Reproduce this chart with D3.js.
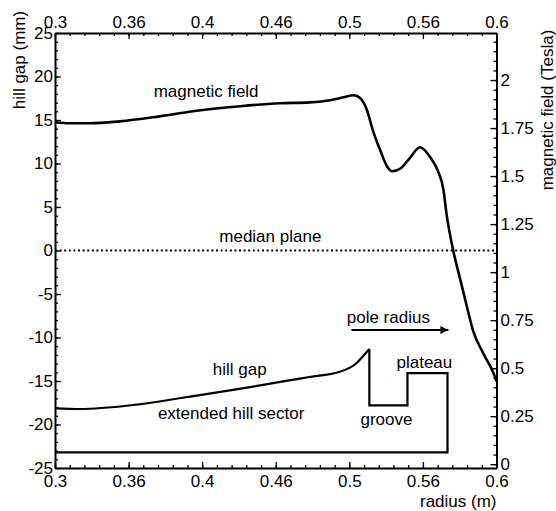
<!DOCTYPE html>
<html>
<head>
<meta charset="utf-8">
<script src="https://cdn.jsdelivr.net/npm/d3@7"></script>
<style>
  body { margin: 0; background: #fff; }
  svg text { font-family: "Liberation Sans", Arial, sans-serif; font-size: 17px; fill: #000; }
  .axis path, .axis line { stroke: #000; }
  .axis path { stroke-width: 2px; }
  .axis line { stroke-width: 1.3px; }
</style>
</head>
<body>
<div id="chart"></div>
<script>
//////////////////////////////////////////////
// data //////////////////////////////////////
//////////////////////////////////////////////

// magnetic field along the radius (Tesla, right axis)
var fieldR = [0.300, 0.310, 0.324, 0.344, 0.371, 0.399, 0.426, 0.453, 0.473, 0.487, 0.496,
              0.503, 0.5075, 0.512, 0.516, 0.521, 0.526, 0.529, 0.535, 0.5415, 0.548,
              0.555, 0.560, 0.564, 0.566, 0.571, 0.575, 0.580, 0.584, 0.591, 0.598, 0.600];
var fieldB = [1.780, 1.775, 1.775, 1.785, 1.811, 1.843, 1.864, 1.879, 1.884, 1.895, 1.910,
              1.921, 1.905, 1.843, 1.738, 1.634, 1.546, 1.525, 1.541, 1.598, 1.650,
              1.598, 1.530, 1.426, 1.306, 1.098, 0.973, 0.817, 0.697, 0.577, 0.473, 0.431];

// hill gap profile (mm, left axis), sloped part
var hillR   = [0.300, 0.317, 0.353, 0.390, 0.421, 0.453, 0.473, 0.493, 0.505, 0.510, 0.5136];
var hillGap = [-18.14, -18.22, -17.76, -16.84, -16.03, -15.11, -14.54, -13.97, -12.93, -12.01, -11.32];

// groove, plateau and extended hill sector outline
var outlineR   = [0.5136, 0.5136, 0.5395, 0.5395, 0.5667, 0.5667, 0.300];
var outlineGap = [-11.32, -17.80, -17.80, -14.10, -14.10, -23.20, -23.20];

// ticks
var radiusTicks  = [0.30, 0.35, 0.40, 0.45, 0.50, 0.55, 0.60];
var radiusLabels = ["0.3", "0.36", "0.4", "0.46", "0.5", "0.56", "0.6"];
var gapTicks   = [25, 20, 15, 10, 5, 0, -5, -10, -15, -20, -25];
var fieldTicks  = [0, 0.25, 0.5, 0.75, 1, 1.25, 1.5, 1.75, 2];
var fieldLabels = ["0", "0.25", "0.5", "0.75", "1", "1.25", "1.5", "1.75", "2"];

//////////////////////////////////////////////
// Chart Config /////////////////////////////
//////////////////////////////////////////////
var margin = {top: 33, right: 59.5, bottom: 43, left: 55};
var width = 556 - margin.left - margin.right,
    height = 511 - margin.top - margin.bottom;

var xScale = d3.scaleLinear().domain([0.3, 0.6]).range([0, width]);
var yGap = d3.scaleLinear().domain([-25, 25]).range([height, 0]);
var yField = d3.scaleLinear().domain([-0.02, 2.245]).range([height, 0]);

var svg = d3.select("#chart").append("svg")
    .attr("width", 556)
    .attr("height", 511);

var g = svg.append("g")
    .attr("transform", "translate(" + margin.left + "," + margin.top + ")");

// minor ticks first, majors and frame on top
function minor(axis, sel) {
  sel.call(axis.tickSize(-3).tickFormat(""));
  sel.select(".domain").remove();
}
var minorR = d3.range(0.30, 0.6001, 0.01);
var minorGap = d3.range(-25, 25.001, 1);
var minorField = d3.range(0, 2.2001, 0.05);

minor(d3.axisTop(xScale).tickValues(minorR), g.append("g").attr("class", "axis"));
minor(d3.axisBottom(xScale).tickValues(minorR), g.append("g").attr("class", "axis").attr("transform", "translate(0," + height + ")"));
minor(d3.axisLeft(yGap).tickValues(minorGap), g.append("g").attr("class", "axis"));
minor(d3.axisRight(yField).tickValues(minorField), g.append("g").attr("class", "axis").attr("transform", "translate(" + width + ",0)"));

// major axes
var fmtR = function(d, i) { return radiusLabels[i]; };
g.append("g").attr("class", "axis")
    .call(d3.axisTop(xScale).tickValues(radiusTicks).tickFormat(fmtR).tickSizeInner(-6).tickSizeOuter(0).tickPadding(5));
g.append("g").attr("class", "axis")
    .attr("transform", "translate(0," + height + ")")
    .call(d3.axisBottom(xScale).tickValues(radiusTicks).tickFormat(fmtR).tickSizeInner(-6).tickSizeOuter(0).tickPadding(7));
g.append("g").attr("class", "axis")
    .call(d3.axisLeft(yGap).tickValues(gapTicks).tickFormat(function(d) { return String(d); })
      .tickSizeInner(-6).tickSizeOuter(0).tickPadding(2));
g.append("g").attr("class", "axis")
    .attr("transform", "translate(" + width + ",0)")
    .call(d3.axisRight(yField).tickValues(fieldTicks).tickFormat(function(d, i) { return fieldLabels[i]; })
      .tickSizeInner(-6).tickSizeOuter(0).tickPadding(4));

g.selectAll(".axis text").style("font-size", "17px");

// median plane
g.append("line")
    .attr("x1", 0).attr("x2", width)
    .attr("y1", yGap(0)).attr("y2", yGap(0))
    .style("stroke", "#000")
    .style("stroke-width", 2.2)
    .style("stroke-dasharray", "2,2.6");

// magnetic field line
var fieldLine = d3.line()
    .curve(d3.curveMonotoneX)
    .x(function(d, i) { return xScale(fieldR[i]); })
    .y(function(d) { return yField(d); });
g.append("path").datum(fieldB)
    .attr("d", fieldLine)
    .style("fill", "none").style("stroke", "#000").style("stroke-width", 2.6);

// hill gap
var hillLine = d3.line()
    .curve(d3.curveMonotoneX)
    .x(function(d, i) { return xScale(hillR[i]); })
    .y(function(d) { return yGap(d); });
g.append("path").datum(hillGap)
    .attr("d", hillLine)
    .style("fill", "none").style("stroke", "#000").style("stroke-width", 2.2);

var outlineLine = d3.line()
    .x(function(d, i) { return xScale(outlineR[i]); })
    .y(function(d) { return yGap(d); });
g.append("path").datum(outlineGap)
    .attr("d", outlineLine)
    .style("fill", "none").style("stroke", "#000").style("stroke-width", 2.2)
    .style("stroke-linejoin", "miter");

// pole radius arrow
svg.append("defs").append("marker")
    .attr("id", "head")
    .attr("viewBox", "0 0 10 10").attr("refX", 10).attr("refY", 5)
    .attr("markerWidth", 13).attr("markerHeight", 8).attr("markerUnits", "userSpaceOnUse")
    .attr("orient", "auto")
  .append("path").attr("d", "M0,0L10,5L0,10Z").style("fill", "#000");
g.append("line")
    .attr("x1", xScale(0.5014)).attr("x2", xScale(0.5673))
    .attr("y1", yGap(-9.14)).attr("y2", yGap(-9.14))
    .style("stroke", "#000").style("stroke-width", 2)
    .attr("marker-end", "url(#head)");

// annotations
function note(txt, r, mm, anchor) {
  g.append("text")
    .attr("x", xScale(r)).attr("y", yGap(mm))
    .attr("text-anchor", anchor || "middle")
    .text(txt);
}
note("magnetic field", 0.4027, 17.64);
note("median plane", 0.4463, 0.98);
note("hill gap", 0.4255, -14.31);
note("extended hill sector", 0.4197, -19.37);
note("groove", 0.5252, -20.0);
note("plateau", 0.551, -13.54);
note("pole radius", 0.5265, -8.37);

// axis titles
svg.append("text")
    .attr("x", margin.left + width).attr("y", 507)
    .attr("text-anchor", "end")
    .text("radius (m)");
svg.append("text")
    .attr("transform", "translate(25,60) rotate(-90)")
    .attr("text-anchor", "middle")
    .text("hill gap (mm)");
svg.append("text")
    .attr("transform", "translate(553,110) rotate(-90)")
    .attr("text-anchor", "middle")
    .text("magnetic field (Tesla)");
</script>
</body>
</html>
